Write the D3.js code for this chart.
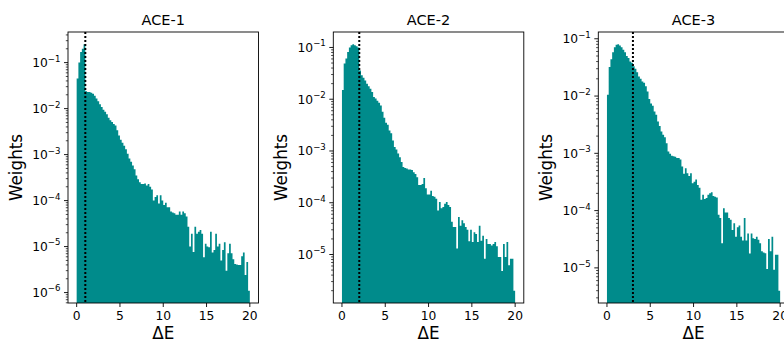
<!DOCTYPE html>
<html>
<head>
<meta charset="utf-8">
<script src="https://cdn.jsdelivr.net/npm/d3@7"></script>
<style>
  body { margin: 0; background: #fff; }
  text { font-family: "DejaVu Sans", sans-serif; fill: #000; }
</style>
</head>
<body>
<div id="chart"></div>
<script>
// histogram weights, 100 bins of width 0.2 over [0, 20]
const ace1Weights = [
  0.045, 0.10, 0.17, 0.20, 0.25, 0.024, 0.023, 0.023, 0.022, 0.021,
  0.019, 0.0165, 0.0144, 0.0124, 0.0108, 0.0095, 0.0085, 0.0075, 0.0063, 0.0056,
  0.0051, 0.0046, 0.0043, 0.0034, 0.0026, 0.0021, 0.0018, 0.00155, 0.0013, 0.00105,
  0.00082, 0.0007, 0.00058, 0.00048, 0.00035, 0.00029, 0.00025, 0.00023, 0.00023, 0.000234,
  0.000214, 0.00023, 0.0002, 0.000175, 0.0001, 0.00012, 0.000131, 0.000086, 0.00013, 0.0001,
  8e-5, 9e-5, 7.2e-5, 7.2e-5, 5.8e-5, 5.5e-5, 5.3e-5, 4.9e-5, 4.9e-5, 5.8e-5,
  4.9e-5, 5.8e-5, 5.3e-5, 4.5e-5, 2.7e-5, 1e-5, 1.9e-5, 7.6e-6, 2.7e-5, 1.9e-5,
  2.1e-5, 2.3e-5, 1.9e-5, 5.9e-6, 1.15e-5, 1e-5, 9.7e-6, 2.1e-5, 7.4e-6, 8.4e-6,
  1.9e-5, 1e-5, 1.15e-5, 5e-6, 8.4e-6, 1.25e-5, 3e-6, 7.2e-6, 1.15e-5, 7.2e-6,
  5.3e-6, 4.2e-6, 4.1e-6, 4e-6, 4e-6, 6.2e-6, 7.4e-6, 2.4e-6, 4.6e-6, 1.1e-6
];
const ace2Weights = [
  0.015, 0.049, 0.061, 0.082, 0.10, 0.11, 0.115, 0.11, 0.106, 0.10,
  0.036, 0.029, 0.026, 0.023, 0.020, 0.0178, 0.016, 0.0138, 0.011, 0.0103,
  0.0093, 0.0085, 0.0076, 0.0057, 0.0044, 0.0035, 0.0032, 0.0025, 0.0022, 0.0016,
  0.0012, 0.00107, 0.00089, 0.00076, 0.00061, 0.00049, 0.00047, 0.00046, 0.00044, 0.00044,
  0.00043, 0.00039, 0.00036, 0.00031, 0.00022, 0.00022, 0.00023, 0.0003, 0.00019, 1.45e-4,
  1.45e-4, 1.7e-4, 1.35e-4, 1.3e-4, 1.2e-4, 7.1e-5, 1.03e-4, 7.8e-5, 8.3e-5, 9.6e-5,
  1.03e-4, 9e-5, 8.3e-5, 4.3e-5, 3.4e-5, 3.4e-5, 1.3e-5, 5.3e-5, 3.6e-5, 4.6e-5,
  4e-5, 3.4e-5, 3e-5, 1.8e-5, 3e-5, 1.75e-5, 2.7e-5, 2.5e-5, 1.75e-5, 3.6e-5,
  1.85e-5, 2.3e-5, 8.3e-6, 2e-5, 1.6e-5, 1.6e-5, 1.5e-5, 1.6e-5, 1.75e-5, 1.44e-5,
  8.9e-6, 8.9e-6, 4.8e-6, 1.6e-5, 8.9e-6, 1.75e-5, 6.2e-6, 8.3e-6, 8.3e-6, 2.0e-6
];
const ace3Weights = [
  0.0105, 0.032, 0.044, 0.058, 0.071, 0.079, 0.080, 0.076, 0.071, 0.064,
  0.058, 0.05, 0.046, 0.04, 0.038, 0.033, 0.03, 0.026, 0.022, 0.02,
  0.018, 0.017, 0.0148, 0.012, 0.0089, 0.0074, 0.0068, 0.0054, 0.0047, 0.0036,
  0.003, 0.0024, 0.0021, 0.0019, 0.0015, 0.00108, 0.00098, 0.00091, 0.00089, 0.00087,
  0.00083, 0.00083, 0.00078, 0.00059, 0.00044, 0.00055, 0.00045, 0.0004, 0.00045, 3e-4,
  3.2e-4, 3.5e-4, 2.8e-4, 2.5e-4, 1.55e-4, 1.9e-4, 1.6e-4, 1.66e-4, 1.9e-4, 2e-4,
  2.1e-4, 1.8e-4, 1.75e-4, 1.7e-4, 8.5e-5, 7.4e-5, 2.7e-5, 1.1e-4, 9.3e-5, 9.3e-5,
  7.4e-5, 6.9e-5, 4.6e-5, 6e-5, 3.5e-5, 5.1e-5, 5.5e-5, 3.5e-5, 3e-5, 7.4e-5,
  3e-5, 4e-5, 1.78e-5, 4e-5, 3.3e-5, 3.2e-5, 3.5e-5, 3.1e-5, 2.7e-5, 1.95e-5,
  1.85e-5, 1.8e-5, 9.6e-6, 3.2e-5, 1.95e-5, 3.5e-5, 9.3e-6, 1.7e-5, 1.7e-5, 4.0e-6
];
const titles = ['ACE-1', 'ACE-2', 'ACE-3'];
const thresholds = [1, 2, 3];
const xTicks = [0, 5, 10, 15, 20];
const binWidth = 0.2;

const series = [ace1Weights, ace2Weights, ace3Weights];

const width = 784;
const height = 341;
const panelLeft = [68, 333.3, 598.3];
const panelW = 190.5;
const plotTop = 32;
const plotBottom = 303;
const color = '#008b8b';

const svg = d3.select('#chart')
  .append('svg')
  .attr('width', width)
  .attr('height', height);

function supLabel(sel, k) {
  sel.append('tspan').text('10');
  sel.append('tspan')
    .attr('dy', -5.5)
    .style('font-size', '8.6px')
    .text('\u2212' + k);
}

series.forEach((weights, p) => {
  const left = panelLeft[p];
  const g = svg.append('g');

  const x = d3.scaleLinear().domain([-1, 21]).range([left, left + panelW]);

  // log axis with 5% margin in log space, like matplotlib autoscale
  const lo = Math.log10(d3.min(weights));
  const hi = Math.log10(d3.max(weights));
  const pad = (hi - lo) * 0.05;
  const y = d3.scaleLog()
    .domain([Math.pow(10, lo - pad), Math.pow(10, hi + pad)])
    .range([plotBottom, plotTop]);

  const clipId = 'clip' + p;
  g.append('clipPath').attr('id', clipId)
    .append('rect')
    .attr('x', left).attr('y', plotTop)
    .attr('width', panelW).attr('height', plotBottom - plotTop);

  // bin edges -> step outline (last edge repeats the last bin)
  const steps = weights.map((w, i) => [i * binWidth, w]);
  steps.push([weights.length * binWidth, weights[weights.length - 1]]);

  const area = d3.area()
    .curve(d3.curveStepAfter)
    .x(d => x(d[0]))
    .y0(plotBottom)
    .y1(d => y(d[1]));

  g.append('path')
    .attr('clip-path', `url(#${clipId})`)
    .datum(steps)
    .attr('d', area)
    .attr('fill', color);

  // threshold line
  g.append('line')
    .attr('x1', x(thresholds[p])).attr('x2', x(thresholds[p]))
    .attr('y1', plotTop).attr('y2', plotBottom)
    .attr('stroke', '#000')
    .attr('stroke-width', 2)
    .attr('stroke-dasharray', '2,2');

  // frame
  g.append('rect')
    .attr('x', left).attr('y', plotTop)
    .attr('width', panelW).attr('height', plotBottom - plotTop)
    .attr('fill', 'none')
    .attr('stroke', '#000')
    .attr('stroke-width', 0.9);

  // x ticks
  const xt = g.selectAll('.xt').data(xTicks).join('g')
    .attr('transform', d => `translate(${x(d)},${plotBottom})`);
  xt.append('line').attr('y2', 4).attr('stroke', '#000').attr('stroke-width', 0.9);
  xt.append('text')
    .attr('y', 17)
    .attr('text-anchor', 'middle')
    .style('font-size', '12.3px')
    .text(d => d);

  // y ticks (decades + minor)
  const [d0, d1] = y.domain();
  const majors = [];
  const minors = [];
  for (let k = Math.floor(Math.log10(d0)); k <= Math.ceil(Math.log10(d1)); k++) {
    const base = Math.pow(10, k);
    if (base >= d0 && base <= d1) majors.push(k);
    for (let m = 2; m <= 9; m++) {
      const v = m * base;
      if (v >= d0 && v <= d1) minors.push(v);
    }
  }
  g.selectAll('.ymin').data(minors).join('line')
    .attr('x1', left - 2.2).attr('x2', left)
    .attr('y1', d => y(d)).attr('y2', d => y(d))
    .attr('stroke', '#000').attr('stroke-width', 0.7);

  const yt = g.selectAll('.yt').data(majors).join('g')
    .attr('transform', k => `translate(${left},${y(Math.pow(10, k))})`);
  yt.append('line').attr('x2', -4).attr('stroke', '#000').attr('stroke-width', 0.9);
  yt.append('text')
    .attr('x', -7.5)
    .attr('y', 4.4)
    .attr('text-anchor', 'end')
    .style('font-size', '12.3px')
    .each(function (k) { supLabel(d3.select(this), -k); });

  // title and axis labels
  g.append('text')
    .attr('x', left + panelW / 2).attr('y', 24.5)
    .attr('text-anchor', 'middle')
    .style('font-size', '14.5px')
    .text(titles[p]);

  g.append('text')
    .attr('x', left + panelW / 2).attr('y', 339)
    .attr('text-anchor', 'middle')
    .style('font-size', '16.8px')
    .text('\u0394E');

  g.append('text')
    .attr('transform', `translate(${left - 46.5},${(plotTop + plotBottom) / 2}) rotate(-90)`)
    .attr('text-anchor', 'middle')
    .style('font-size', '16.8px')
    .text('Weights');
});
</script>
</body>
</html>
